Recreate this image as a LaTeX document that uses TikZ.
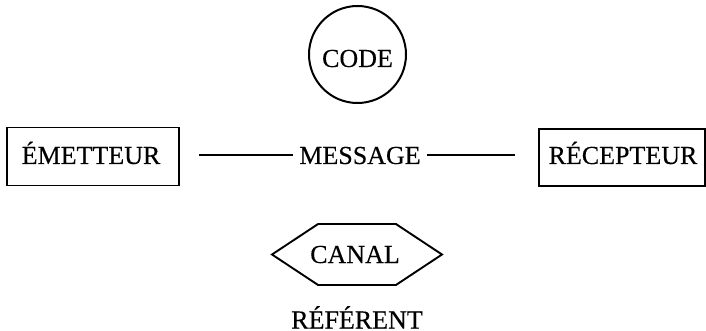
\documentclass[tikz,border=0pt]{standalone}
\usepackage{fontspec}
\setmainfont{Liberation Serif}
\newfontfamily\printfont[FakeBold=0.3]{Liberation Serif}
\usetikzlibrary{shapes.symbols}
\begin{document}
\begin{tikzpicture}[x=1pt,y=-1pt,
  every node/.style={font=\printfont\fontsize{26}{30}\selectfont},
  lbl/.style={inner sep=0pt},
  boxed/.style={draw,line width=1.9pt,rectangle,inner sep=0pt},
  link/.style={line width=2pt}]
\useasboundingbox (0,0) rectangle (706,331);
\node[draw,circle,line width=2pt,minimum size=97pt,inner sep=0pt] (code) at (357.5,54.5) {};
\node[lbl,anchor=base] (codet) at (357.5,67) {CODE};
\node[boxed,minimum width=172pt,minimum height=58pt] (emetteur) at (93,156.5) {};
\node[lbl,anchor=base] (emt) at (91,164) {ÉMETTEUR};
\node[boxed,minimum width=166pt,minimum height=57pt] (recepteur) at (622,157.5) {};
\node[lbl,anchor=base] (rect) at (623,164) {RÉCEPTEUR};
\node[lbl,anchor=base,inner xsep=6pt] (message) at (360,164) {MESSAGE};
\draw[link] (199,155) coordinate (l1) -- (message.west |- l1);
\draw[link] (message.east |- l1) -- (515,155) coordinate (r1);
\node[draw,line width=1.9pt,signal,signal to=west and east,signal pointer angle=67,
  minimum width=170pt,minimum height=61pt,inner sep=0pt] (canal) at (357,254.5) {};
\node[lbl,anchor=base] (canalt) at (355,263) {CANAL};
\node[lbl,anchor=base] (referent) at (357,328.5) {RÉFÉRENT};
\end{tikzpicture}
\end{document}
